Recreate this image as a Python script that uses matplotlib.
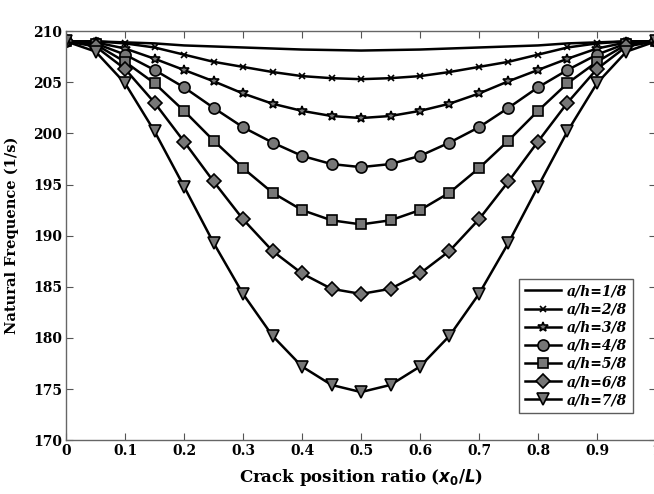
import matplotlib as mpl
import matplotlib.pyplot as plt
import numpy as np

mpl.use('Agg')

# crack position ratio x0/L
x_half = [0.0, 0.05, 0.1, 0.15, 0.2, 0.25, 0.3, 0.35, 0.4, 0.45, 0.5]

# natural frequency, first half (curves are symmetric about x0/L = 0.5)
f_18 = [209.0, 209.0, 208.9, 208.8, 208.6, 208.5, 208.4, 208.3, 208.2, 208.15, 208.1]
f_28 = [209.0, 209.0, 208.8, 208.4, 207.7, 207.0, 206.5, 206.0, 205.6, 205.4, 205.3]
f_38 = [209.0, 208.9, 208.3, 207.3, 206.2, 205.1, 203.9, 202.9, 202.2, 201.7, 201.5]
f_48 = [209.0, 208.8, 207.7, 206.2, 204.5, 202.5, 200.6, 199.1, 197.8, 197.0, 196.7]
f_58 = [209.0, 208.7, 207.0, 204.9, 202.2, 199.3, 196.6, 194.2, 192.5, 191.5, 191.1]
f_68 = [209.0, 208.5, 206.3, 203.0, 199.2, 195.3, 191.6, 188.5, 186.3, 184.8, 184.3]
f_78 = [209.0, 208.0, 204.9, 200.2, 194.8, 189.3, 184.3, 180.2, 177.2, 175.4, 174.7]

labels = ['a/h=1/8', 'a/h=2/8', 'a/h=3/8', 'a/h=4/8', 'a/h=5/8', 'a/h=6/8', 'a/h=7/8']
markers = [None, 'x', '*', 'o', 's', 'D', 'v']
msizes = [0, 5, 7, 8, 7, 7, 9]

xticks = [0, 0.1, 0.2, 0.3, 0.4, 0.5, 0.6, 0.7, 0.8, 0.9, 1]
yticks = [170, 175, 180, 185, 190, 195, 200, 205, 210]


def mirror(v):
    # full curve from the half curve
    return list(v) + list(v[-2::-1])


x = np.array(x_half + [round(1 - v, 2) for v in x_half[-2::-1]])

plt.rcParams['font.family'] = 'DejaVu Serif'
plt.rcParams['font.weight'] = 'bold'

fig = plt.figure(figsize=(6.54, 4.94), dpi=100)
ax = fig.add_axes([0.101, 0.109, 0.902, 0.828])

for f, lab, m, ms in zip([f_18, f_28, f_38, f_48, f_58, f_68, f_78], labels, markers, msizes):
    ax.plot(x, mirror(f), color='k', linewidth=1.8, marker=m, markersize=ms,
            markerfacecolor='#777777', markeredgecolor='k', markeredgewidth=1.2,
            label=lab)

ax.set_xlim(0, 1)
ax.set_ylim(170, 210)
ax.set_xticks(xticks)
ax.set_xticklabels(['0', '0.1', '0.2', '0.3', '0.4', '0.5', '0.6', '0.7', '0.8', '0.9', '1'])
ax.set_yticks(yticks)
ax.tick_params(direction='in', top=True, right=True, labelsize=10, length=5,
               color='#555555', pad=3)
for lbl in ax.get_xticklabels() + ax.get_yticklabels():
    lbl.set_fontweight('bold')
for sp in ax.spines.values():
    sp.set_color('#666666')
    sp.set_linewidth(1.0)

ax.set_xlabel(r'Crack position ratio ($\mathbf{\mathit{x_0/L}}$)', fontsize=12,
              fontweight='bold', labelpad=6)
ax.set_ylabel('Natural Frequence (1/s)', fontsize=10.5, fontweight='bold', labelpad=10)

leg = ax.legend(loc='lower right', bbox_to_anchor=(0.972, 0.05),
                prop={'style': 'italic', 'weight': 'bold', 'size': 10},
                frameon=True, fancybox=False, edgecolor='#333333',
                handlelength=2.6, borderpad=0.4, labelspacing=0.3, handletextpad=0.4)
leg.get_frame().set_linewidth(1.0)

plt.savefig('out.png', dpi=100)
